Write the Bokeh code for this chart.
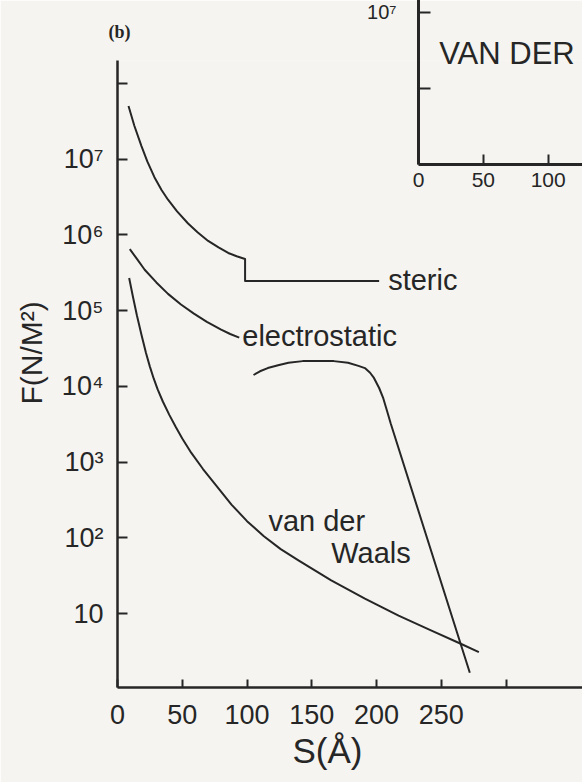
from bokeh.plotting import figure
from bokeh.layouts import column
from bokeh.models import FixedTicker, Range1d, Title
from bokeh.core.properties import value
from bokeh.embed import file_html
from bokeh.resources import INLINE

# ---------------- data ----------------
# separation S (Angstrom) and force per area F (N/m^2)
steric_s = [8.5, 13, 18.5, 23, 28.5, 34, 39, 46, 54.5, 62, 70, 78, 85.5, 92, 98.5, 98.5, 202]
steric_f = [5.0e7, 2.75e7, 1.48e7, 9.3e6, 5.75e6, 3.9e6, 2.9e6, 2.04e6, 1.41e6, 1.07e6,
            8.3e5, 6.8e5, 5.75e5, 5.2e5, 4.8e5, 2.45e5, 2.45e5]

elec_s = [9.5, 15, 21, 30, 39, 49, 59, 69, 80, 87, 94]
elec_f = [6.45e5, 4.8e5, 3.45e5, 2.35e5, 1.66e5, 1.2e5, 9.1e4, 7.1e4, 5.6e4, 4.9e4, 4.4e4]

hump_s = [105, 110, 116, 124, 132, 143, 155, 167, 178, 186, 191, 195, 198, 202, 205, 208, 211, 272]
hump_f = [1.41e4, 1.58e4, 1.74e4, 1.9e4, 2.05e4, 2.15e4, 2.15e4, 2.15e4, 2.05e4, 1.86e4,
          1.74e4, 1.51e4, 1.29e4, 9.5e3, 7.1e3, 4.8e3, 3.2e3, 1.66]

vdw_s = [9, 12, 15, 18.5, 22, 25, 28, 31, 35, 40, 45, 50, 57, 66, 75, 88, 100, 113, 126,
         140, 165, 191, 217, 242, 265, 279]
vdw_f = [2.69e5, 1.5e5, 8.6e4, 4.8e4, 2.75e4, 1.82e4, 1.26e4, 9.1e3, 6.3e3, 4.2e3, 2.9e3,
         2.05e3, 1.32e3, 8.1e2, 5.2e2, 2.75e2, 1.66e2, 1.05e2, 71, 50, 27.5, 15.8, 9.4, 6.0, 4.0, 3.1]

x_ticks = [0, 50, 100, 150, 200, 250, 300]
x_tick_labels = ["0", "50", "100", "150", "200", "250", ""]
y_ticks = [1e1, 1e2, 1e3, 1e4, 1e5, 1e6, 1e7, 1e8]
y_tick_labels = ["10", "10²", "10³", "10⁴", "10⁵", "10⁶", "10⁷", ""]

# inset (part of neighbouring panel, cut by the page edge)
inset_x_ticks = [0, 50, 100]
inset_x_labels = ["0", "50", "100"]
inset_y_ticks = [1e6, 1e7]
inset_y_labels = ["", "10⁷"]
inset_text = ["VAN DER"]
inset_text_x = [16]
inset_text_y = [2.85e6]

vdw_label_text = ["van der", "Waals"]
vdw_label_s = [116.5, 165]
vdw_label_f = [165, 63]

panel_label = "(b)"

# ---------------- styling ----------------
PAPER = "#f5f4f0"
INK = "#262626"
FONT = "Liberation Sans"

p = figure(width=582, height=782, y_axis_type="log",
           x_range=Range1d(0, 359), y_range=Range1d(10 ** 0.025, 10 ** 8.3),
           output_backend="svg", toolbar_location=None,
           min_border_left=117, min_border_right=0, min_border_top=60, min_border_bottom=95)
p.background_fill_color = PAPER
p.border_fill_color = PAPER
p.outline_line_color = None
p.grid.visible = False

p.title.text = panel_label
p.title.align = "left"
p.title.offset = -9
p.title.standoff = 38
p.title.text_font = "Liberation Serif"
p.title.text_font_style = "bold"
p.title.text_font_size = "18px"
p.title.text_color = INK

for ax in (p.xaxis[0], p.yaxis[0]):
    ax.axis_line_color = INK
    ax.axis_line_width = 2.5
    ax.major_tick_line_color = INK
    ax.major_tick_line_width = 2
    ax.major_tick_out = 0
    ax.minor_tick_line_color = None
    ax.major_label_text_font = FONT
    ax.major_label_text_font_size = "27px"
    ax.major_label_text_color = INK

p.xaxis.ticker = FixedTicker(ticks=x_ticks)
p.xaxis.major_label_overrides = {t: l for t, l in zip(x_ticks, x_tick_labels)}
p.xaxis.major_tick_in = 8
p.xaxis.major_label_standoff = 17

p.yaxis.ticker = FixedTicker(ticks=y_ticks)
p.yaxis.major_label_overrides = {t: l for t, l in zip(y_ticks, y_tick_labels)}
p.yaxis.major_tick_in = 10
p.yaxis.major_label_standoff = 14

p.add_layout(Title(text="F(N/M²)", align="left", offset=283, standoff=22,
                   text_font=FONT, text_font_size="30px", text_font_style="normal",
                   text_color=INK), "left")
p.add_layout(Title(text="S(Å)", align="left", offset=175, standoff=4,
                   text_font=FONT, text_font_size="35px", text_font_style="normal",
                   text_color=INK), "below")

for xs, ys in ((steric_s, steric_f), (elec_s, elec_f), (hump_s, hump_f), (vdw_s, vdw_f)):
    p.line(xs, ys, line_color=INK, line_width=2, line_join="round")

lbl = dict(text_font=value(FONT), text_font_size="29px", text_color=INK,
           text_align="left", text_baseline="alphabetic")
p.text(x=[steric_s[-1]], y=[steric_f[-1]], text=["steric"], x_offset=9, y_offset=-1, **lbl)
p.text(x=[elec_s[-1]], y=[elec_f[-1]], text=["electrostatic"], x_offset=3, y_offset=-2, **lbl)
p.text(x=vdw_label_s, y=vdw_label_f, text=vdw_label_text, **lbl)

# ---------------- inset ----------------
q = figure(width=281, height=232, y_axis_type="log",
           x_range=Range1d(0, 126.5), y_range=Range1d(1e5, 10 ** 7.526),
           output_backend="svg", toolbar_location=None,
           min_border_left=117, min_border_right=0, min_border_top=0, min_border_bottom=40)
q.background_fill_color = None
q.border_fill_color = None
q.outline_line_color = None
q.grid.visible = False
for ax in (q.xaxis[0], q.yaxis[0]):
    ax.axis_line_color = INK
    ax.axis_line_width = 3
    ax.major_tick_line_color = INK
    ax.major_tick_line_width = 2
    ax.major_tick_out = 0
    ax.minor_tick_line_color = None
    ax.major_label_text_font = FONT
    ax.major_label_text_font_size = "21px"
    ax.major_label_text_color = INK
q.xaxis.ticker = FixedTicker(ticks=inset_x_ticks)
q.xaxis.major_label_overrides = {t: l for t, l in zip(inset_x_ticks, inset_x_labels)}
q.xaxis.major_tick_in = 10
q.xaxis.major_label_standoff = 8
q.yaxis.ticker = FixedTicker(ticks=inset_y_ticks)
q.yaxis.major_label_overrides = {t: l for t, l in zip(inset_y_ticks, inset_y_labels)}
q.yaxis.major_tick_in = 12
q.yaxis.major_label_standoff = 22
q.yaxis.major_label_text_font_size = "20px"
q.text(x=inset_text_x, y=inset_text_y, text=inset_text,
       text_font=value(FONT), text_font_size="31px", text_color=INK,
       text_align="left", text_baseline="alphabetic")
q.margin = (-810, 0, 578, 301)

layout = column(p, q)
open("out.html", "w").write(file_html(layout, INLINE))
